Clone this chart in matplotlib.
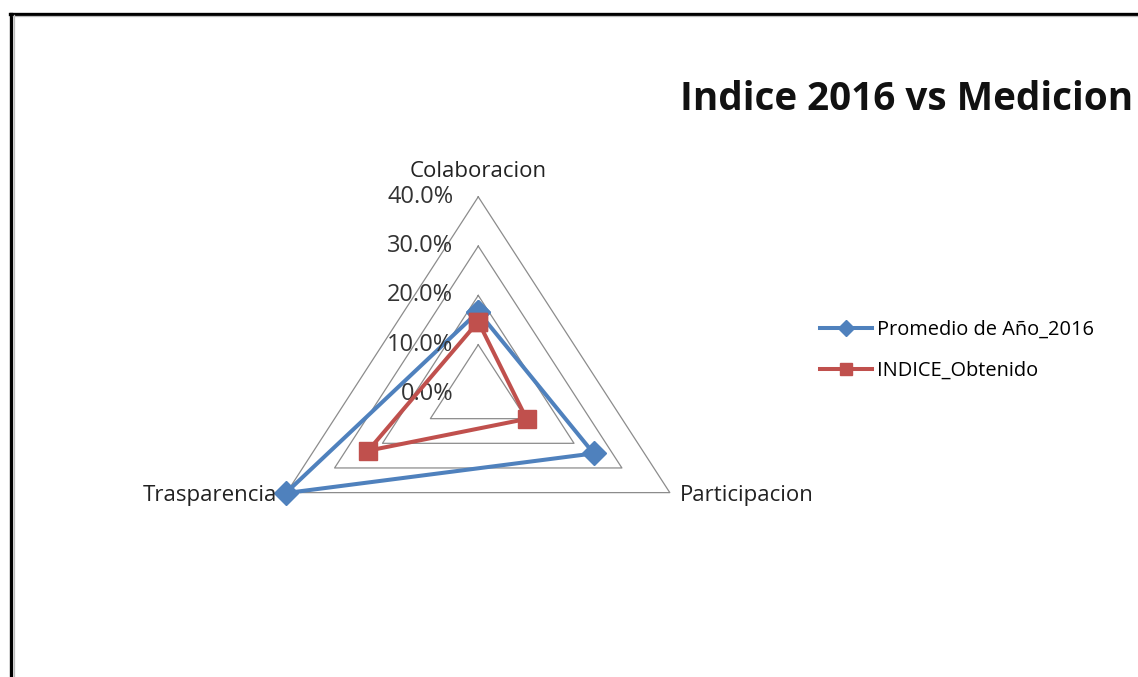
import numpy as np
import matplotlib
matplotlib.use("Agg")
import matplotlib.pyplot as plt
from matplotlib.lines import Line2D

plt.rcParams['font.family'] = ['Open Sans', 'DejaVu Sans']

# Data (percent)
categories = ["Colaboracion", "Participacion", "Trasparencia"]
promedio_2016 = [16.7, 24.1, 40.2]
indice_obtenido = [14.7, 10.1, 23.0]
ticks = [0, 10, 20, 30, 40]
tick_labels = ["0.0%", "10.0%", "20.0%", "30.0%", "40.0%"]
series_names = ["Promedio de Año_2016", "INDICE_Obtenido"]

blue = "#4F81BD"
red = "#C0504D"
grid_col = "#8C8C8C"

angles = np.array([90, -30, 210]) * np.pi / 180


def to_xy(vals):
    vals = np.asarray(vals, dtype=float)
    x = vals * np.cos(angles)
    y = vals * np.sin(angles)
    return np.append(x, x[0]), np.append(y, y[0])


W, H = 1138, 677
fig = plt.figure(figsize=(W / 100, H / 100), dpi=100)
fig.patch.set_facecolor("white")

# axes placed so that the radar centre sits where the original one does
ax = fig.add_axes([0.1287, 0.0903, 0.5831, 0.6554])
ax.set_xlim(-60, 60)
ax.set_ylim(-45, 45)
ax.axis("off")

# triangular grid
for t in ticks[1:]:
    gx, gy = to_xy([t] * 3)
    ax.plot(gx, gy, color=grid_col, lw=0.9, zorder=1)

# series
bx, by = to_xy(promedio_2016)
rx, ry = to_xy(indice_obtenido)
l1, = ax.plot(bx, by, color=blue, lw=2.9, marker="D", ms=12,
              markerfacecolor=blue, markeredgecolor=blue, zorder=3,
              label=series_names[0])
l2, = ax.plot(rx, ry, color=red, lw=2.9, marker="s", ms=13,
              markerfacecolor=red, markeredgecolor=red, zorder=4,
              label=series_names[1])

# tick labels along the top axis
for t, lab in zip(ticks, tick_labels):
    ax.annotate(lab, (0, t), xytext=(-25 * 0.72, 0), textcoords="offset points",
                ha="right", va="center", fontsize=17, color="#333333")

# category labels
ax.annotate(categories[0], (0, 40), xytext=(0, 18), textcoords="offset points",
            ha="center", va="center", fontsize=16, color="#222222")
px, py = to_xy([40, 40, 40])
ax.annotate(categories[1], (px[1], py[1]), xytext=(7, -2), textcoords="offset points",
            ha="left", va="center", fontsize=16, color="#222222")
ax.annotate(categories[2], (px[2], py[2]), xytext=(-7, -2), textcoords="offset points",
            ha="right", va="center", fontsize=16, color="#222222")

# legend
fig.legend(handles=[l1, l2], loc="upper left",
           bbox_to_anchor=(812 / W, 1 - 312 / H), frameon=False,
           fontsize=14.4, handlelength=2.6, handletextpad=0.25,
           labelspacing=1.05, markerscale=0.7, borderaxespad=0)

# title
fig.text(680 / W, 1 - 110 / H, "Indice 2016 vs Medicion", fontsize=27.8,
         fontweight="bold", ha="left", va="baseline", color="#111111")

# frame edges of the original screenshot
fig.add_artist(Line2D([11 / W, 11 / W], [0, 1 - 13.5 / H], color="black", lw=2.4,
                      transform=fig.transFigure))
fig.add_artist(Line2D([9.8 / W, 1], [1 - 13.5 / H, 1 - 13.5 / H], color="black", lw=2.4,
                      transform=fig.transFigure))
fig.add_artist(Line2D([13.8 / W, 13.8 / W], [0, 1 - 15 / H], color="#BBBBBB", lw=0.9,
                      transform=fig.transFigure))
fig.add_artist(Line2D([13 / W, 1], [1 - 16 / H, 1 - 16 / H], color="#BBBBBB", lw=0.9,
                      transform=fig.transFigure))

fig.savefig("out.png", dpi=100)
